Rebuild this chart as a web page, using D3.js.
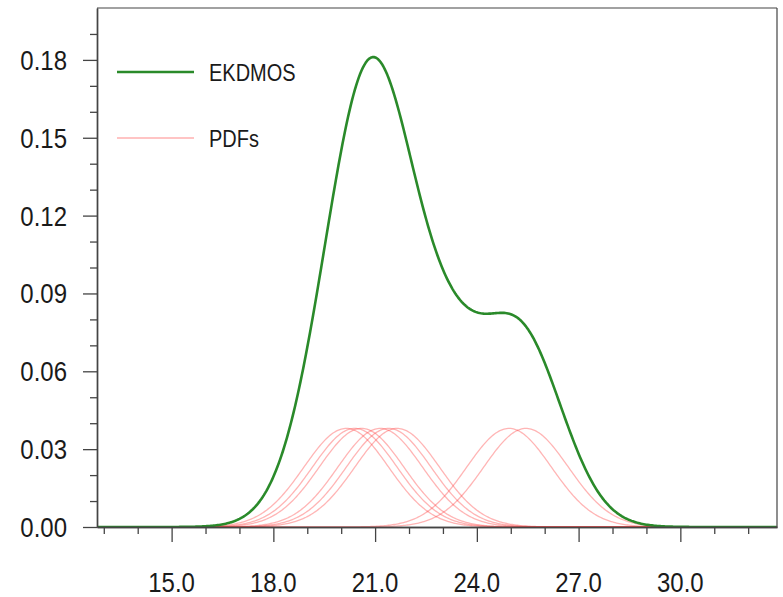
<!DOCTYPE html>
<html>
<head>
<meta charset="utf-8">
<script src="https://cdn.jsdelivr.net/npm/d3@7"></script>
<style>
  html, body { margin: 0; padding: 0; background: #fff; }
  svg { display: block; }
  text { font-family: "Liberation Sans", Arial, Helvetica, sans-serif; fill: #1a1a1a; }
</style>
</head>
<body>
<svg id="chart" width="783" height="597"></svg>
<script>
// ---- data ----
const xDomain = [12.8, 32.85];
const yDomain = [0, 0.2];
const xMajorTicks = [15, 18, 21, 24, 27, 30];
const xMinorTicks = [13, 14, 16, 17, 19, 20, 22, 23, 25, 26, 28, 29, 31, 32];
const yMajorTicks = [0, 0.03, 0.06, 0.09, 0.12, 0.15, 0.18];
const yMinorTicks = [0.01, 0.02, 0.04, 0.05, 0.07, 0.08, 0.10, 0.11, 0.13, 0.14, 0.16, 0.17, 0.19];

// EKDMOS density: gaussian components (centre, spread, height)
const ekdmosMeans = [20.6, 21.5, 23.3, 24.95, 25.45];
const ekdmosSds = [1.32, 1.3, 0.9, 1.25, 1.25];
const ekdmosPeaks = [0.122, 0.068, 0.025, 0.039, 0.039];

// individual kernel PDFs (gaussians): centres, shared spread and peak height
const pdfMeans = [20.15, 20.4, 20.6, 21.15, 21.4, 21.65, 24.95, 25.45];
const pdfSd = 1.25;
const pdfPeak = 0.038;

const legendLabels = ["EKDMOS", "PDFs"];

// ---- drawing ----
const svg = d3.select("#chart");
const L = 97, R = 777, T = 8, B = 527;
const x = d3.scaleLinear().domain(xDomain).range([L, R]);
const y = d3.scaleLinear().domain(yDomain).range([B, T]);
const green = "#2a8a2a";
const pink = "rgba(255,60,60,0.38)";
const stretch = 1.18;

const gauss = (v, m, s, h) => h * Math.exp(-((v - m) * (v - m)) / (2 * s * s));

svg.append("clipPath").attr("id", "clip")
  .append("rect").attr("x", L).attr("y", T).attr("width", R - L).attr("height", B - T);
const marks = svg.append("g").attr("clip-path", "url(#clip)");

const grid = d3.range(xDomain[0], xDomain[1] + 0.001, 0.04);
const line = d3.line().x(d => x(d[0])).y(d => y(d[1]));

// kernel curves
marks.selectAll("path.pdf").data(pdfMeans).join("path")
  .attr("class", "pdf")
  .attr("fill", "none")
  .attr("stroke", pink)
  .attr("stroke-width", 1.3)
  .attr("d", m => line(grid.map(v => [v, gauss(v, m, pdfSd, pdfPeak)])));

// EKDMOS curve
marks.append("path")
  .datum(grid.map(v => [v, d3.sum(ekdmosMeans, (m, i) => gauss(v, m, ekdmosSds[i], ekdmosPeaks[i]))]))
  .attr("fill", "none")
  .attr("stroke", green)
  .attr("stroke-width", 2.6)
  .attr("stroke-linejoin", "round")
  .attr("d", line);

// frame
const frameColor = "#444";
svg.append("line").attr("x1", L).attr("x2", R).attr("y1", T).attr("y2", T).attr("stroke", frameColor).attr("stroke-width", 1.2);
svg.append("line").attr("x1", R).attr("x2", R).attr("y1", T).attr("y2", B).attr("stroke", frameColor).attr("stroke-width", 1.2);

// axes
function styleAxis(g) {
  g.select(".domain").attr("stroke", frameColor).attr("stroke-width", 1.4);
  g.selectAll(".tick line").attr("stroke", frameColor).attr("stroke-width", 1.3);
  g.selectAll(".tick text").remove();
}
svg.append("g").attr("transform", `translate(${L},0)`)
  .call(d3.axisLeft(y).tickValues(yMinorTicks).tickSize(7).tickSizeOuter(0).tickFormat(""))
  .call(styleAxis);
svg.append("g").attr("transform", `translate(${L},0)`)
  .call(d3.axisLeft(y).tickValues(yMajorTicks).tickSize(14).tickSizeOuter(0).tickFormat(""))
  .call(styleAxis);
svg.append("g").attr("transform", `translate(0,${B})`)
  .call(d3.axisBottom(x).tickValues(xMinorTicks).tickSize(7).tickSizeOuter(0).tickFormat(""))
  .call(styleAxis);
svg.append("g").attr("transform", `translate(0,${B})`)
  .call(d3.axisBottom(x).tickValues(xMajorTicks).tickSize(15).tickSizeOuter(0).tickFormat(""))
  .call(styleAxis);

// tick labels (stretched vertically like the reference)
const fmtY = d3.format(".2f"), fmtX = d3.format(".1f");
svg.append("g").selectAll("text").data(yMajorTicks).join("text")
  .attr("transform", d => `translate(67,${y(d) + 10}) scale(1,${stretch})`)
  .attr("text-anchor", "end")
  .style("font-size", "24px")
  .text(fmtY);
svg.append("g").selectAll("text").data(xMajorTicks).join("text")
  .attr("transform", d => `translate(${x(d)},${591.5}) scale(1,${stretch})`)
  .attr("text-anchor", "middle")
  .style("font-size", "24px")
  .text(fmtX);

// legend
const legY = [72, 138];
const legColors = [green, "rgba(255,100,100,0.5)"];
const legWidths = [2.4, 1.3];
const leg = svg.append("g");
legendLabels.forEach((lab, i) => {
  leg.append("line").attr("x1", 117).attr("x2", 194).attr("y1", legY[i]).attr("y2", legY[i])
    .attr("stroke", legColors[i]).attr("stroke-width", legWidths[i]);
  leg.append("text")
    .attr("transform", `translate(209,${legY[i] + 8.5}) scale(1,${stretch})`)
    .style("font-size", "20px")
    .text(lab);
});
</script>
</body>
</html>
